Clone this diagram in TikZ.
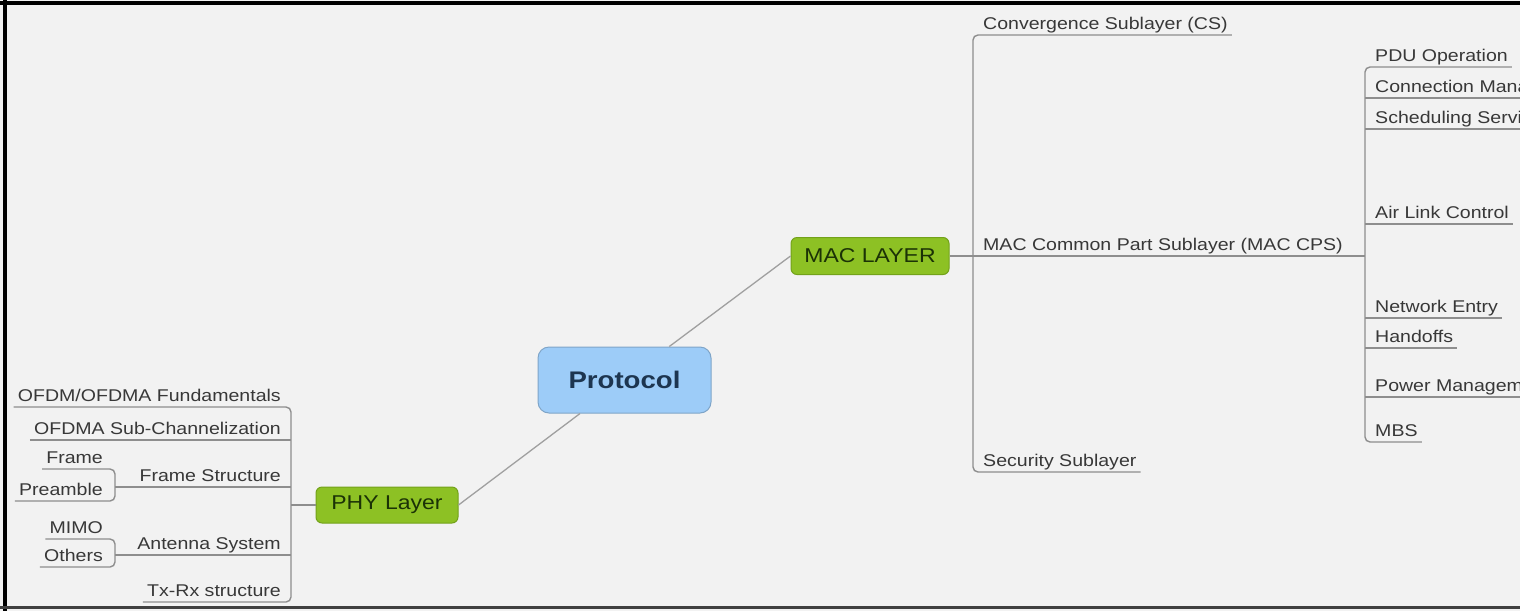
\documentclass[tikz,border=0pt]{standalone}
\usepackage{fontspec}
\setmainfont[FakeStretch=1.15]{Liberation Sans}
\definecolor{bg}{HTML}{F2F2F2}
\definecolor{txt}{HTML}{383838}
\definecolor{lc}{HTML}{8E8E8E}
\definecolor{lc2}{HTML}{A0A0A0}
\definecolor{gfill}{HTML}{8DC124}
\definecolor{gborder}{HTML}{73A21A}
\definecolor{gtext}{HTML}{1B3206}
\definecolor{bfill}{HTML}{9DCCF8}
\definecolor{bborder}{HTML}{7FA5C8}
\definecolor{btext}{HTML}{1D3550}
\begin{document}
\begin{tikzpicture}[x=1pt,y=-1pt,
  leaf/.style={inner xsep=4pt, inner ysep=1.5pt, text height=12pt, text depth=4pt,
    font=\fontsize{17}{20}\selectfont, text=txt},
  conn/.style={draw=lc, line width=1.4pt},
  link/.style={draw=lc2, line width=1.3pt},
  greenbox/.style={rounded corners=6pt, fill=gfill, draw=gborder, line width=1pt,
    minimum width=158pt, minimum height=37pt, inner sep=0pt,
    font=\fontsize{20}{24}\selectfont, text=gtext},
  bluebox/.style={rounded corners=11pt, fill=bfill, draw=bborder, line width=1pt,
    minimum width=173pt, minimum height=66pt, inner sep=0pt,
    font=\fontsize{24}{28}\selectfont\bfseries, text=btext}]
\path[use as bounding box] (0,0) rectangle (1520,611);
\clip (0,0) rectangle (1520,611);
\fill[bg] (0,0) rectangle (1520,611);
% frame
\fill[black] (0,1) rectangle (1520,4.5);
\fill[black] (2.5,0) rectangle (6.5,611);
\fill[black!75] (0,606) rectangle (1520,609);

% coordinates
\coordinate (phyT) at (291,505);
\coordinate (macT) at (973,256);
\coordinate (cpsT) at (1365,256);
\coordinate (bxA) at (115,487);
\coordinate (bxB) at (115,555);
\coordinate (edge) at (1520,0);

% main nodes
\node[bluebox] (proto) at (624.5,380) {Protocol};
\node[greenbox] (mac) at (870,256) {MAC LAYER};
\node[greenbox, minimum width=142pt, minimum height=36pt] (phy) at (387,505) {PHY Layer};

% MAC children
\node[leaf, anchor=south west] (cs) at (979,35) {Convergence Sublayer (CS)};
\node[leaf, anchor=south west] (cps) at (979,256) {MAC Common Part Sublayer (MAC CPS)};
\node[leaf, anchor=south west] (sec) at (979,472) {Security Sublayer};

% CPS children
\node[leaf, anchor=south west] (pdu) at (1371,67) {PDU Operation};
\node[leaf, anchor=south west] (cmgmt) at (1371,98) {Connection Mana};
\node[leaf, anchor=south west] (sched) at (1371,129) {Scheduling Servi};
\node[leaf, anchor=south west] (air) at (1371,224) {Air Link Control};
\node[leaf, anchor=south west] (net) at (1371,318) {Network Entry};
\node[leaf, anchor=south west] (hand) at (1371,348) {Handoffs};
\node[leaf, anchor=south west] (power) at (1371,397) {Power Managem};
\node[leaf, anchor=south west] (mbs) at (1371,442) {MBS};

% PHY children
\node[leaf, anchor=south east] (ofdm) at (285,407) {OFDM/OFDMA Fundamentals};
\node[leaf, anchor=south east] (sub) at (285,440) {OFDMA Sub-Channelization};
\node[leaf, anchor=south east] (fs) at (285,487) {Frame Structure};
\node[leaf, anchor=south east] (ant) at (285,555) {Antenna System};
\node[leaf, anchor=south east] (txrx) at (285,602) {Tx-Rx structure};
\node[leaf, anchor=south east] (frame) at (107,469) {Frame};
\node[leaf, anchor=south east] (pre) at (107,501) {Preamble};
\node[leaf, anchor=south east] (mimo) at (107,539) {MIMO};
\node[leaf, anchor=south east] (others) at (107,567) {Others};

% connectors
\draw[link] (proto) -- (mac.west);
\draw[link] (proto) -- (phy.east);

\draw[conn] (mac.east) -- (cpsT);
\draw[conn, rounded corners=5pt] (cs.south east) -- (cs.south -| macT) -- (sec.south -| macT) -- (sec.south east);

\draw[conn, rounded corners=5pt] (pdu.south east) -- (pdu.south -| cpsT) -- (mbs.south -| cpsT) -- (mbs.south east);
\draw[conn] (cmgmt.south -| cpsT) -- (cmgmt.south -| edge);
\draw[conn] (sched.south -| cpsT) -- (sched.south -| edge);
\draw[conn] (air.south -| cpsT) -- (air.south east);
\draw[conn] (net.south -| cpsT) -- (net.south east);
\draw[conn] (hand.south -| cpsT) -- (hand.south east);
\draw[conn] (power.south -| cpsT) -- (power.south -| edge);

\draw[conn] (phy.west) -- (phyT);
\draw[conn, rounded corners=5pt] (ofdm.south west) -- (ofdm.south -| phyT) -- (txrx.south -| phyT) -- (txrx.south west);
\draw[conn] (sub.south west) -- (sub.south -| phyT);
\draw[conn] (fs.south -| bxA) -- (fs.south -| phyT);
\draw[conn] (ant.south -| bxB) -- (ant.south -| phyT);
\draw[conn, rounded corners=5pt] (frame.south west) -- (frame.south -| bxA) -- (pre.south -| bxA) -- (pre.south west);
\draw[conn, rounded corners=5pt] (mimo.south west) -- (mimo.south -| bxB) -- (others.south -| bxB) -- (others.south west);
\end{tikzpicture}
\end{document}
